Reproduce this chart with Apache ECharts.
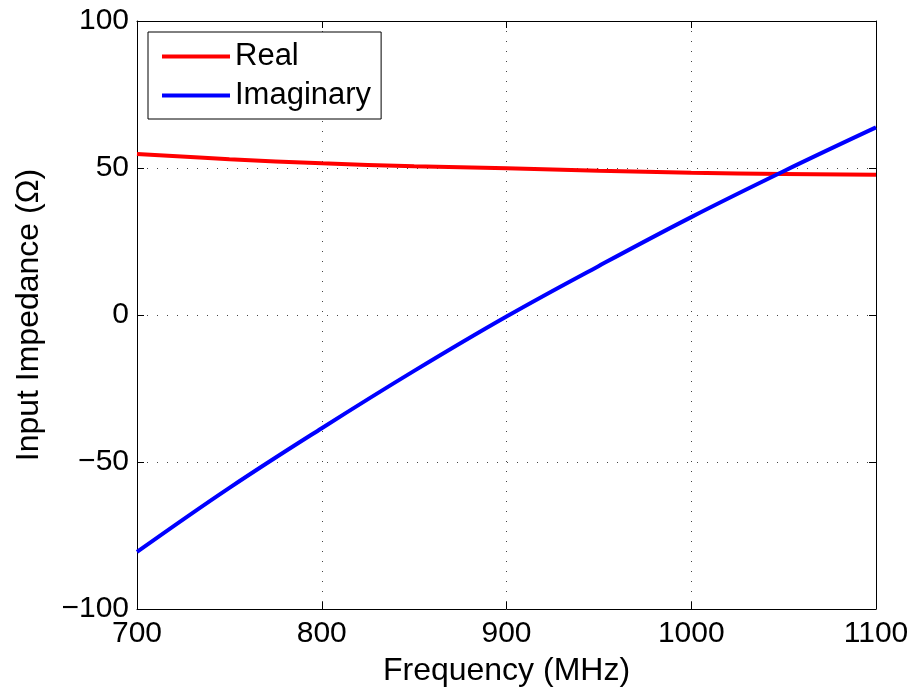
<!DOCTYPE html>
<html>
<head>
<meta charset="utf-8">
<script src="https://cdn.jsdelivr.net/npm/echarts@6/dist/echarts.min.js"></script>
<style>html,body{margin:0;padding:0;background:#fff;}#c{width:917px;height:692px;}</style>
</head>
<body>
<div id="c"></div>
<script>
var freq = [700, 750, 800, 850, 900, 950, 1000, 1050, 1100];
var realPart = [54.8, 53.0, 51.6, 50.6, 49.9, 49.1, 48.4, 48.0, 47.7];
var imagPart = [-80.6, -58.8, -38.5, -19.0, -0.5, 16.7, 33.3, 48.9, 63.8];
var seriesNames = ['Real', 'Imaginary'];
var xLabel = 'Frequency (MHz)';
var yLabel = 'Input Impedance (\u03A9)';

var FONT = '"Liberation Sans", Arial, Helvetica, sans-serif';
function pairs(xs, ys) { return xs.map(function (x, i) { return [x, ys[i]]; }); }
function fmt(v) { return String(v).replace('-', '\u2212'); }
var gridLine = { show: true, lineStyle: { color: '#444', width: 1, type: [1, 9] } };
var tick = { show: true, inside: true, length: 7, lineStyle: { color: '#000', width: 1 } };
var line = { show: true, onZero: false, lineStyle: { color: '#000', width: 1 } };

var chart = echarts.init(document.getElementById('c'), null, { renderer: 'canvas' });
chart.setOption({
  backgroundColor: '#fff',
  animation: false,
  grid: { left: 137, right: 41, top: 21, bottom: 83, containLabel: false },
  legend: {
    orient: 'vertical', left: 148, top: 32,
    padding: [9, 10, 8, 14],
    icon: 'rect',
    itemWidth: 68, itemHeight: 4, itemGap: 8,
    borderColor: '#000', borderWidth: 1, backgroundColor: '#fff',
    textStyle: { fontFamily: FONT, fontSize: 31, color: '#000', lineHeight: 31 },
    data: seriesNames
  },
  xAxis: [{
    type: 'value', min: 700, max: 1100, interval: 100, position: 'bottom',
    name: xLabel, nameLocation: 'middle', nameGap: 46,
    nameTextStyle: { fontFamily: FONT, fontSize: 32, color: '#000' },
    axisLine: line, axisTick: tick, splitLine: gridLine,
    axisLabel: { fontFamily: FONT, fontSize: 30, color: '#000', margin: 10, formatter: fmt }
  }, {
    type: 'value', min: 700, max: 1100, interval: 100, position: 'top',
    axisLine: line, axisTick: tick, splitLine: { show: false }, axisLabel: { show: false }
  }],
  yAxis: [{
    type: 'value', min: -100, max: 100, interval: 50, position: 'left',
    name: yLabel, nameLocation: 'middle', nameGap: 92, nameRotate: 90,
    nameTextStyle: { fontFamily: FONT, fontSize: 32, color: '#000' },
    axisLine: line, axisTick: tick, splitLine: gridLine,
    axisLabel: { fontFamily: FONT, fontSize: 30, color: '#000', margin: 8, formatter: fmt }
  }, {
    type: 'value', min: -100, max: 100, interval: 50, position: 'right',
    axisLine: line, axisTick: tick, splitLine: { show: false }, axisLabel: { show: false }
  }],
  series: [{
    name: seriesNames[0], type: 'line', xAxisIndex: 0, yAxisIndex: 0,
    data: pairs(freq, realPart), smooth: 0.4, symbol: 'none',
    lineStyle: { color: '#ff0000', width: 4 }, itemStyle: { color: '#ff0000' }
  }, {
    name: seriesNames[1], type: 'line', xAxisIndex: 0, yAxisIndex: 0,
    data: pairs(freq, imagPart), smooth: 0.4, symbol: 'none',
    lineStyle: { color: '#0000ff', width: 4 }, itemStyle: { color: '#0000ff' }
  }]
});
</script>
</body>
</html>
